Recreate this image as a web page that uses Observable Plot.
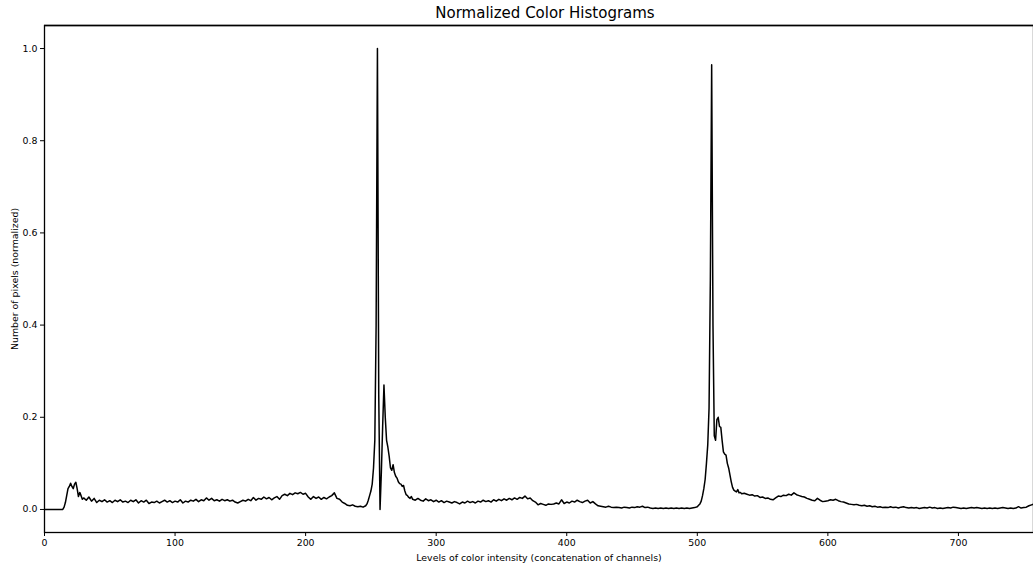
<!DOCTYPE html>
<html>
<head>
<meta charset="utf-8">
<script src="https://cdn.jsdelivr.net/npm/d3@7"></script>
<script src="https://cdn.jsdelivr.net/npm/@observablehq/plot@0.6"></script>
<style>
  html, body { margin: 0; padding: 0; background: #fff; }
  #wrap { position: relative; width: 1033px; height: 563px; overflow: hidden; font-family: "DejaVu Sans", sans-serif; }
  #title { position: absolute; left: 0; top: 5px; width: 1090px; text-align: center; font-size: 15px; line-height: 17px; color: #000; }
  #chart { position: absolute; left: 0; top: 22px; }
</style>
</head>
<body>
<div id="wrap">
  <div id="chart"></div>
  <div id="title"></div>
</div>
<script>
const titleText = "Normalized Color Histograms";
const xLabel = "Levels of color intensity (concatenation of channels)";
const yLabel = "Number of pixels (normalized)";
const xTicks = [0, 100, 200, 300, 400, 500, 600, 700];
const yTicks = [0, 0.2, 0.4, 0.6, 0.8, 1.0];
const xDomain = [0, 757.5];
const yDomain = [-0.05, 1.05];

const levels = [
  0,2,4,6,8,10,12,14,15,16,17,18,19,20,21,22,23,24,25,26,27,28,29,30,
  32,34,36,38,40,42,44,46,48,50,52,54,56,58,60,62,64,66,68,70,72,74,76,78,80,
  82,84,86,88,90,92,94,96,98,100,102,104,106,108,110,112,114,116,118,120,
  122,124,126,128,130,132,134,136,138,140,142,144,146,148,150,152,154,156,158,160,
  162,164,166,168,170,172,174,176,178,180,182,184,186,188,190,192,194,196,198,200,
  202,204,206,208,210,212,214,216,218,220,222,224,226,228,230,232,234,236,238,240,
  242,244,246,247,248,249,250,251,252,253,254,255,256,257,258,259,260,261,262,263,
  264,265,266,267,268,269,270,271,272,273,274,275,276,277,278,279,280,281,282,
  284,286,288,290,292,294,296,298,300,302,304,306,308,310,312,314,316,318,320,
  322,324,326,328,330,332,334,336,338,340,342,344,346,348,350,352,354,356,358,360,
  362,364,366,368,370,372,374,376,378,380,382,384,386,388,390,392,394,396,398,400,
  402,404,406,408,410,412,414,416,418,420,422,424,426,428,430,432,434,436,438,440,
  442,444,446,448,450,452,454,456,458,460,462,464,466,468,470,472,474,476,478,480,
  482,484,486,488,490,492,494,496,498,500,501,502,503,504,505,506,507,508,509,510,
  511,512,513,514,515,516,517,518,519,520,521,522,523,524,525,526,527,528,529,530,
  531,532,533,534,536,538,540,542,544,546,548,550,552,554,556,558,560,562,564,566,
  568,570,572,574,576,578,580,582,584,586,588,590,592,594,596,598,600,602,604,606,
  608,610,612,614,616,618,620,622,624,626,628,630,632,634,636,638,640,642,644,646,
  648,650,652,654,656,658,660,662,664,666,668,670,672,674,676,678,680,682,684,686,
  688,690,692,694,696,698,700,702,704,706,708,710,712,714,716,718,720,722,724,726,
  728,730,732,734,736,738,740,742,744,746,748,750,752,754,756,758,760
];

const counts = [
  0,0,0,0,0,0,0,0,0.005,0.015,0.03,0.045,0.05,0.057,0.05,0.045,0.055,0.059,0.045,0.028,0.037,0.03,0.022,0.025,
  0.02,0.027,0.018,0.024,0.015,0.02,0.017,0.021,0.016,0.019,0.015,0.02,0.017,0.021,0.016,0.018,0.015,0.02,0.017,0.021,0.014,0.019,0.016,0.02,0.013,
  0.016,0.015,0.018,0.014,0.017,0.02,0.016,0.019,0.015,0.018,0.016,0.021,0.014,0.018,0.016,0.02,0.018,0.022,0.017,0.021,
  0.019,0.025,0.02,0.024,0.019,0.021,0.018,0.022,0.019,0.021,0.018,0.02,0.016,0.014,0.017,0.02,0.018,0.022,0.019,0.026,
  0.02,0.024,0.022,0.027,0.023,0.026,0.021,0.025,0.028,0.022,0.03,0.033,0.03,0.035,0.032,0.036,0.034,0.037,0.033,0.035,
  0.027,0.022,0.028,0.024,0.027,0.022,0.026,0.023,0.027,0.03,0.036,0.024,0.022,0.016,0.013,0.009,0.008,0.01,0.007,0.006,
  0.007,0.005,0.008,0.012,0.02,0.03,0.04,0.055,0.09,0.15,0.4,1.0,0.25,0.0,0.08,0.18,0.27,0.2,0.15,0.135,
  0.115,0.09,0.085,0.097,0.08,0.072,0.068,0.06,0.056,0.055,0.05,0.052,0.04,0.032,0.03,0.026,0.024,0.028,0.022,
  0.02,0.024,0.02,0.018,0.023,0.019,0.021,0.017,0.02,0.016,0.019,0.015,0.018,0.016,0.014,0.017,0.015,0.012,0.016,
  0.014,0.018,0.015,0.017,0.014,0.018,0.016,0.02,0.017,0.019,0.016,0.021,0.018,0.022,0.019,0.023,0.02,0.024,0.021,0.025,
  0.022,0.026,0.024,0.029,0.023,0.025,0.019,0.016,0.01,0.013,0.011,0.009,0.012,0.011,0.012,0.014,0.012,0.021,0.013,0.016,
  0.014,0.018,0.016,0.02,0.017,0.015,0.018,0.02,0.014,0.017,0.012,0.008,0.007,0.006,0.005,0.007,0.005,0.004,0.005,0.004,
  0.003,0.005,0.004,0.003,0.005,0.004,0.006,0.005,0.007,0.004,0.005,0.003,0.002,0.003,0.002,0.003,0.002,0.003,0.002,0.003,
  0.002,0.003,0.002,0.003,0.002,0.003,0.002,0.003,0.004,0.006,0.009,0.012,0.018,0.03,0.045,0.065,0.1,0.14,0.22,0.5,
  0.965,0.4,0.16,0.15,0.195,0.2,0.18,0.178,0.15,0.125,0.12,0.118,0.1,0.09,0.075,0.06,0.048,0.042,0.04,0.038,
  0.043,0.036,0.037,0.034,0.035,0.033,0.031,0.032,0.029,0.03,0.026,0.027,0.024,0.025,0.022,0.021,0.025,0.029,0.028,0.031,
  0.03,0.033,0.031,0.036,0.032,0.03,0.028,0.027,0.024,0.022,0.02,0.019,0.024,0.02,0.017,0.018,0.019,0.021,0.02,0.022,
  0.019,0.017,0.016,0.014,0.012,0.011,0.01,0.011,0.009,0.008,0.009,0.007,0.008,0.006,0.007,0.005,0.006,0.004,0.005,0.004,
  0.006,0.004,0.005,0.003,0.005,0.006,0.004,0.003,0.004,0.003,0.004,0.002,0.003,0.004,0.003,0.005,0.003,0.004,0.002,0.003,
  0.002,0.003,0.004,0.003,0.005,0.004,0.003,0.002,0.003,0.002,0.003,0.004,0.003,0.004,0.003,0.002,0.003,0.002,0.003,0.002,
  0.003,0.002,0.003,0.004,0.003,0.002,0.003,0.002,0.003,0.006,0.003,0.004,0.005,0.008,0.01,0.012,0.014
];

document.getElementById("title").textContent = titleText;

const data = levels.map((x, i) => ({x, y: counts[i]}));

const chart = Plot.plot({
  width: 1033,
  height: 541,
  marginLeft: 44,
  marginRight: 0,
  marginTop: 3,
  marginBottom: 31,
  style: { fontFamily: "DejaVu Sans, sans-serif", fontSize: "9.4px", color: "#000", background: "transparent", overflow: "visible" },
  x: {
    domain: xDomain,
    ticks: xTicks,
    tickSize: 4,
    tickPadding: 3,
    tickFormat: d3.format("d"),
    label: xLabel,
    labelAnchor: "center",
    labelArrow: "none",
    labelOffset: 28
  },
  y: {
    domain: yDomain,
    ticks: yTicks,
    tickSize: 4,
    tickPadding: 3,
    tickFormat: d3.format(".1f"),
    label: yLabel,
    labelAnchor: "center",
    labelArrow: "none",
    labelOffset: 33
  },
  marks: [
    Plot.frame({stroke: "#000", strokeWidth: 1.3}),
    Plot.ruleY([yDomain[1]], {stroke: "#000", strokeWidth: 1.3, dy: 0}),
    Plot.line(data, {x: "x", y: "y", stroke: "#000", strokeWidth: 1.5})
  ]
});
document.getElementById("chart").appendChild(chart);
</script>
</body>
</html>
